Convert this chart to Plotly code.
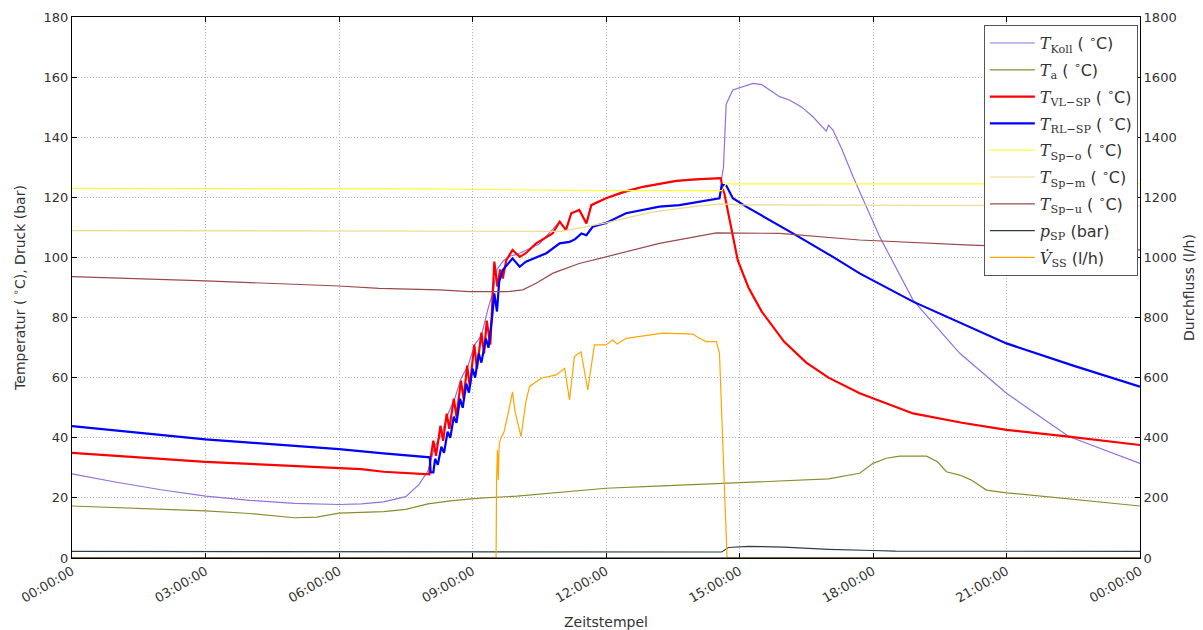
import plotly.graph_objects as go
from plotly.subplots import make_subplots

# --- measured series (time in hours of the day) ---
koll_h = [0, 1, 2, 3, 4, 5, 6, 6.5, 7, 7.5, 7.8, 8.0, 8.15, 8.3, 8.45, 8.6, 8.75, 8.9, 9.05, 9.2,
          9.35, 9.45, 9.55, 9.7, 9.85, 10.0, 10.5, 10.96, 11.1, 11.22, 11.4, 11.56, 11.67, 12.0,
          12.83, 13.58, 14.48, 14.6, 14.64, 14.7, 14.85, 15.3, 15.5, 15.9, 16.12, 16.4, 16.65,
          16.87, 16.95, 17.0, 17.1, 17.3, 17.55, 18.15, 18.9, 19.95, 21.0, 22.4, 24.0]
koll_v = [28.0, 25.2, 22.7, 20.6, 19.2, 18.2, 17.8, 18.0, 18.7, 20.4, 24.5, 29.0, 37, 41, 48, 53, 60, 64, 71, 74,
          83, 88, 96, 99, 100.5, 101, 104.5, 111.9, 109.3, 114.7, 115.8, 111.5, 117.4, 119.7,
          123.5, 125.5, 126.3, 126.5, 130, 151, 155.7, 157.9, 157.5, 153.5, 152.4, 150, 146.8,
          143.5, 142, 144, 142.4, 136, 126.9, 106.9, 85.8, 68.1, 54.8, 40.4, 31.5]

ta_h = [0, 1, 2, 3, 4, 5, 5.5, 6, 6.5, 7, 7.5, 8, 8.5, 9.16, 10, 11, 12, 13, 14.55, 15, 16, 17, 17.7,
        18.0, 18.3, 18.6, 19.2, 19.45, 19.65, 19.95, 20.2, 20.55, 21.0, 22.2, 23, 24]
ta_v = [17.3, 16.8, 16.2, 15.7, 14.8, 13.4, 13.6, 14.9, 15.2, 15.4, 16.2, 18.0, 19.0, 19.9, 20.6, 21.8,
        23.2, 23.8, 24.8, 25.0, 25.5, 26.3, 28.2, 31.5, 33.2, 33.9, 33.9, 32.0, 28.7, 27.6, 26.0,
        22.6, 21.7, 19.9, 18.6, 17.3]

vl_h = [0, 1, 2, 3, 4, 5, 6, 6.5, 7, 7.5, 8.03, 8.05, 8.12, 8.18, 8.28, 8.34, 8.42, 8.48, 8.58, 8.64,
        8.74, 8.8, 8.88, 8.94, 9.04, 9.1, 9.2, 9.26, 9.32, 9.4, 9.49, 9.56, 9.62, 9.68, 9.76, 9.9,
        10.06, 10.2, 10.43, 10.8, 10.96, 11.1, 11.22, 11.4, 11.56, 11.67, 12.0, 12.4, 12.83, 13.2,
        13.58, 14.0, 14.48, 14.58, 14.62, 14.66, 14.78, 14.96, 15.2, 15.5, 16.0, 16.5, 17.0, 17.7,
        18.9, 20.0, 21.0, 22.4, 24.0]
vl_v = [35.0, 34.0, 33.0, 32.0, 31.3, 30.6, 30.0, 29.6, 28.7, 28.2, 27.8, 32.5, 39, 34, 44, 39, 48, 43,
        53, 47, 59, 53, 64, 57, 71, 63, 75, 68, 79, 71, 98.6, 90.3, 96, 93, 99.1, 102.5,
        100.2, 101.4, 104.7, 108.0, 111.9, 109.1, 114.7, 115.8, 111.3, 117.4, 119.7, 121.8, 123.5,
        124.5, 125.5, 126.0, 126.3, 126.4, 123.0, 121.3, 112.4, 99.1, 90, 82, 72, 65, 60, 54.8,
        48.1, 45.0, 42.6, 40.4, 37.6]

rl_h = [0, 1, 2, 3, 4, 5, 6, 7, 8.0, 8.04, 8.06, 8.12, 8.16, 8.22, 8.3, 8.36, 8.44, 8.5, 8.58, 8.64,
        8.72, 8.78, 8.86, 8.92, 9.0, 9.06, 9.14, 9.2, 9.3, 9.36, 9.44, 9.49, 9.55, 9.6, 9.68, 9.9,
        10.06, 10.2, 10.66, 10.96, 11.18, 11.3, 11.45, 11.56, 11.7, 12.0, 12.45, 13.2, 13.65, 14.0,
        14.48, 14.55, 14.6, 14.7, 14.85, 15.15, 16.2, 17.1, 17.7, 18.9, 21.0, 22.5, 24.0]
rl_v = [43.9, 42.4, 41.0, 39.5, 38.4, 37.3, 36.2, 34.8, 33.5, 33.5, 28.5, 28.5, 33, 31, 37, 35, 42, 40,
        47, 45, 53, 50, 58, 55, 63, 60, 68, 65, 73, 70, 80, 88, 82, 92, 95.8, 99.7,
        96.9, 98.6, 101.4, 104.7, 105.2, 106.0, 108.0, 107.4, 110.2, 111.5, 114.7, 116.9, 117.4,
        118.2, 119.4, 119.7, 124.1, 124.0, 119.7, 116.9, 108.0, 100.2, 94.7, 85.3, 71.4, 64.0, 57.0]

spo_h = [0, 4, 8, 12, 14.6, 14.7, 18, 24]
spo_v = [123.0, 123.0, 122.8, 122.2, 122.2, 124.5, 124.5, 124.5]

spm_h = [0, 5, 9, 10.3, 11, 12, 13, 14, 14.6, 15, 24]
spm_v = [108.9, 108.8, 108.5, 108.5, 108.7, 111.5, 115.0, 117.0, 117.8, 117.5, 117.2]

spu_h = [0, 3, 6, 6.9, 8.26, 8.93, 9.76, 10.13, 10.43, 10.8, 10.96, 11.4, 12.0, 13.2, 14.48, 15.9,
         17.7, 20.2, 22, 24]
spu_v = [93.6, 92.2, 90.5, 89.7, 89.2, 88.6, 88.6, 89.2, 91.4, 94.7, 95.6, 98.0, 100.2, 104.7, 108.2,
         108.0, 105.8, 104.1, 103.3, 102.5]

psp_h = [0, 3.85, 4.0, 12.5, 14.6, 14.75, 15.2, 16.0, 17.0, 18.0, 18.5, 24]
psp_v = [2.2, 2.2, 2.0, 2.0, 2.0, 3.5, 3.9, 3.6, 2.9, 2.5, 2.3, 2.2]

vss_h = [0, 9.53, 9.54, 9.55, 9.56, 9.58, 9.6, 9.65, 9.7, 9.8, 9.9, 9.95, 10.09, 10.2, 10.28, 10.54,
         10.88, 11.07, 11.18, 11.29, 11.44, 11.59, 11.74, 12.0, 12.15, 12.25, 12.45, 13.28, 13.95,
         14.1, 14.25, 14.48, 14.55, 14.72, 24]
vss_v = [0, 0, 250, 300, 359, 260, 380, 404, 415, 480, 553, 492, 404, 520, 570, 598,
         609, 631, 526, 670, 686, 559, 709, 709, 725, 712, 731, 748, 745,
         731, 720, 720, 681, 0, 0]

tick_hours = [0, 3, 6, 9, 12, 15, 18, 21, 24]
tick_text = ["00:00:00", "03:00:00", "06:00:00", "09:00:00", "12:00:00",
             "15:00:00", "18:00:00", "21:00:00", "00:00:00"]

DEG = "( <sup>∘</sup>C)"


def sym(base, sub):
    return ("<span style=\"font-family:'DejaVu Serif'\"><i>" + base + "</i><sub>"
            + sub + "</sub></span>")


series = [
    (koll_h, koll_v, sym("T", "Koll") + " " + DEG, "#9370DB", 1.2, False),
    (ta_h, ta_v, sym("T", "a") + " " + DEG, "#8C8C2E", 1.2, False),
    (vl_h, vl_v, sym("T", "VL−SP") + " " + DEG, "#FF0000", 2.2, False),
    (rl_h, rl_v, sym("T", "RL−SP") + " " + DEG, "#0000FF", 2.2, False),
    (spo_h, spo_v, sym("T", "Sp−o") + " " + DEG, "#FFFF33", 1.2, False),
    (spm_h, spm_v, sym("T", "Sp−m") + " " + DEG, "#EED88A", 1.2, False),
    (spu_h, spu_v, sym("T", "Sp−u") + " " + DEG, "#9A4A4A", 1.2, False),
    (psp_h, psp_v, sym("p", "SP") + " (bar)", "#2F3F3F", 1.2, False),
    (vss_h, vss_v, sym("V̇", "SS") + " (l/h)", "#FFA500", 1.2, True),
]

fig = make_subplots(specs=[[{"secondary_y": True}]])
for i, (xs, ys, name, color, width, sec) in enumerate(series):
    fig.add_trace(
        go.Scatter(x=xs, y=ys, mode="lines", name=name, legendgroup=f"g{i}",
                   line=dict(color=color, width=width)),
        secondary_y=sec,
    )

font = dict(family="DejaVu Sans", size=12, color="#333333")
grid = dict(showgrid=True, gridcolor="#b4b4b4", griddash="1px,2px", gridwidth=1)

fig.update_layout(
    width=1203, height=630,
    margin=dict(l=72, r=63, t=17, b=72, autoexpand=False),
    paper_bgcolor="white", plot_bgcolor="white",
    font=font,
    legend=dict(
        x=0.998, y=0.985, xanchor="right", yanchor="top",
        bgcolor="white", bordercolor="#555555", borderwidth=1,
        font=dict(family="DejaVu Sans", size=16, color="#333333"),
        traceorder="grouped", tracegroupgap=3, itemwidth=45,
    ),
    # frame edge drawn over the traces so zero-level lines do not cover it
    shapes=[dict(type="line", xref="paper", yref="paper", x0=0, x1=1, y0=0, y1=0,
                 line=dict(color="black", width=1), layer="above")],
)

fig.update_xaxes(
    domain=[0, 1], automargin=False,
    range=[0, 24], tickvals=tick_hours, ticktext=tick_text, tickangle=-30,
    tickfont=dict(size=13),
    ticks="inside", ticklen=5, tickcolor="black", mirror="ticks",
    showline=True, linecolor="black", linewidth=1, zeroline=False,
    title=dict(text="Zeitstempel", standoff=12), **grid,
)
fig.update_yaxes(
    range=[0, 180], dtick=20, ticks="inside", ticklen=5, tickcolor="black",
    tickfont=dict(size=13), automargin=False,
    showline=True, linecolor="black", linewidth=1, mirror=True, zeroline=False,
    title=dict(text="Temperatur ( <sup>∘</sup>C), Druck (bar)", standoff=14),
    secondary_y=False, **grid,
)
fig.update_yaxes(
    range=[0, 1800], dtick=200, ticks="inside", ticklen=5, tickcolor="black",
    tickfont=dict(size=13), automargin=False,
    showline=True, linecolor="black", linewidth=1, zeroline=False, showgrid=False,
    title=dict(text="Durchfluss (l/h)", standoff=8),
    secondary_y=True,
)

fig.write_html("out.html")
